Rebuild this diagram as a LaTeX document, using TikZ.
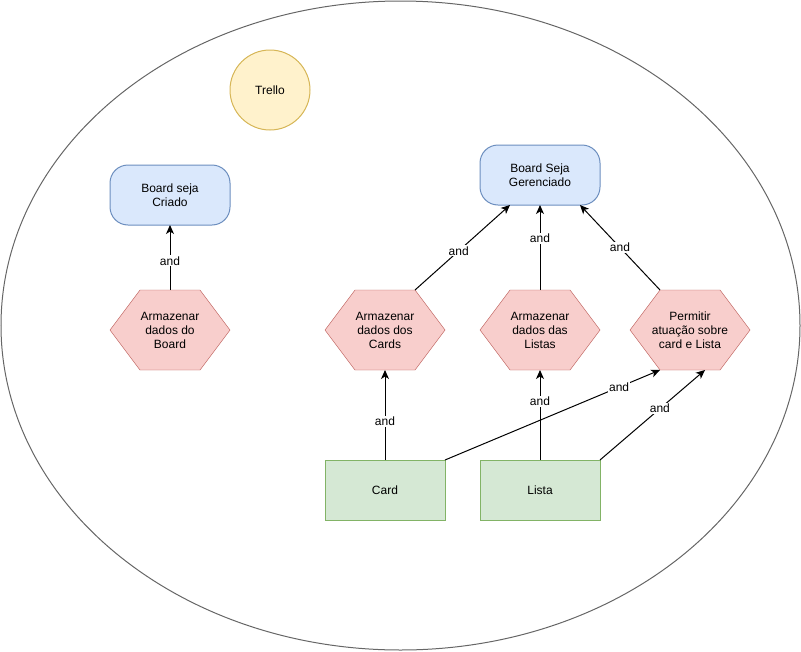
\documentclass[tikz,border=0pt]{standalone}
\usepackage{fontspec}
\setmainfont{Liberation Sans}
\usepackage{xcolor}
\usetikzlibrary{positioning,arrows.meta,shapes.geometric,calc,backgrounds}

\definecolor{goalfill}{HTML}{DAE8FC}
\definecolor{goaldraw}{HTML}{6C8EBF}
\definecolor{taskfill}{HTML}{F8CECC}
\definecolor{taskdraw}{HTML}{B85450}
\definecolor{resfill}{HTML}{D5E8D4}
\definecolor{resdraw}{HTML}{82B366}
\definecolor{actfill}{HTML}{FFF2CC}
\definecolor{actdraw}{HTML}{D6B656}
\definecolor{bndgray}{HTML}{666666}

\begin{document}
\begin{tikzpicture}[
      x=1pt, y=1pt, line width=1pt,
      font=\fontsize{12}{14}\selectfont,
      goal/.style={draw=goaldraw, fill=goalfill, rectangle, rounded corners=18pt,
                   minimum width=120pt, minimum height=60pt, outer sep=0pt, align=center},
      task/.style={rectangle, minimum width=120pt, minimum height=80pt,
                   inner sep=0pt, outer sep=0pt, align=center},
      hexa/.style={draw=taskdraw, fill=taskfill},
      res/.style={draw=resdraw, fill=resfill, rectangle,
                  minimum width=120pt, minimum height=60pt, outer sep=0pt, align=center},
      actor/.style={draw=actdraw, fill=actfill, circle, minimum size=80pt},
      arr/.style={-{Stealth[length=9pt, width=8pt, inset=2.5pt]}},
      lbl/.style={fill=white, inner sep=1pt},
    ]
    \useasboundingbox (0,0) rectangle (801,-651);
    \node[ellipse, draw=bndgray, minimum width=799pt, minimum height=649pt, inner sep=0pt] (trello) at (400.5,-325.5) {};
    \node[actor] (actor) at (270,-90) {Trello};

    % left branch
    \node[task] (tboard) at (170,-330) {Armazenar\\dados do\\Board};
    \node[goal, above=65pt of tboard] (gcriado) {Board seja\\Criado};

    % right branch
    \node[task] (tcards) at (385,-330) {Armazenar\\dados dos\\Cards};
    \node[task, right=35pt of tcards] (tlistas) {Armazenar\\dados das\\Listas};
    \node[task, right=30pt of tlistas] (tperm) {Permitir\\atuação sobre\\card e Lista};
    \node[goal, above=85pt of tlistas] (ggeren) {Board Seja\\Gerenciado};
    \node[res, below=90pt of tcards] (rcard) {Card};
    \node[res, below=90pt of tlistas] (rlista) {Lista};

    % hexagon outlines behind the task texts
    \begin{scope}[on background layer]
      \foreach \t in {tboard,tcards,tlistas,tperm}
        \path[hexa] (\t.west) -- ($(\t.north west)+(30,0)$) -- ($(\t.north east)+(-30,0)$)
          -- (\t.east) -- ($(\t.south east)+(-30,0)$) -- ($(\t.south west)+(30,0)$) -- cycle;
    \end{scope}

    \draw[arr] (tboard) -- node[lbl, pos=0.45] {and} (gcriado);
    \draw[arr] ($(tcards.north)+(30,0)$) -- node[lbl, pos=0.46] {and} ($(ggeren.south)+(-30,0)$);
    \draw[arr] (tlistas) -- node[lbl, pos=0.61] {and} (ggeren);
    \draw[arr] ($(tperm.north)+(-30,0)$) -- node[lbl, pos=0.5] {and} ($(ggeren.south)+(40,0)$);
    \draw[arr] (rcard) -- node[lbl, pos=0.43] {and} (tcards);
    \draw[arr] (rlista) -- node[lbl, pos=0.65] {and} (tlistas);
    \draw[arr] (rcard.north east) -- node[lbl, pos=0.81] {and} ($(tperm.south)+(-30,0)$);
    \draw[arr] (rlista.north east) -- node[lbl, pos=0.57] {and} ($(tperm.south)+(15,0)$);
  \end{tikzpicture}
\end{document}
